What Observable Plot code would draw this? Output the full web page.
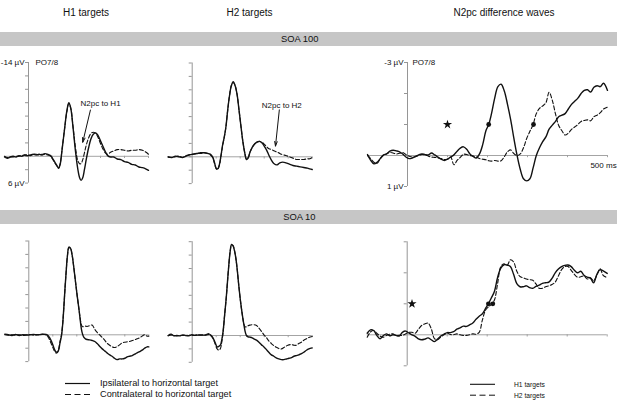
<!DOCTYPE html>
<html>
<head>
<meta charset="utf-8">
<script src="https://cdn.jsdelivr.net/npm/d3@7"></script>
<script src="https://cdn.jsdelivr.net/npm/@observablehq/plot@0.6"></script>
<style>
  body { margin: 0; background: #fff; }
  #fig { position: relative; width: 635px; height: 403px; overflow: hidden;
         font-family: "Liberation Sans", Arial, Helvetica, sans-serif; color: #111; background: #fff; }
  .abs { position: absolute; white-space: nowrap; line-height: 1; }
  .bar { position: absolute; left: 0; width: 617px; height: 14.5px; background: #c6c6c6; }
</style>
</head>
<body>
<div id="fig"></div>
<script>
// ---- Axis definitions -------------------------------------------------
const timeRange = [-100, 500];                       // ms
const msTicks = [100, 200, 300, 400, 500];
const erpRange = [-14, 4];                           // µV, negative up
const erpTicks = [-14, -12, -10, -8, -6, -4, -2, 0, 2, 4];
const erpLabels = ["-14 µV", "6 µV"];
const diffRange = [-3, 1];                           // µV, negative up
const diffTicks = [-3, -2, -1, 0, 1];
const diffLabels = ["-3 µV", "1 µV"];
const siteLabel = "PO7/8";

// ---- SOA 100, H1 targets (ipsilateral / contralateral) ----------------
const soa100H1Time = [-100,-88,-76,-64,-52,-40,-28,-16,-4,8, 20,32,44,56,68,80,92,100,110,120,
  126,132,140,150,160,168,176,185,195,205, 213,219,226,233,241,250,260,270,280,290,
  300,310,320,330,342,355,370,385,400,415, 430,445,460,475,490,500];
const soa100H1Ipsi = [0.1,0.3,0.1,0.0,0.1,-0.1,0.0,-0.2,-0.1,-0.2, -0.3,-0.2,-0.3,-0.2,-0.4,-0.3,-0.1,0.3,0.9,1.5,
  1.8,1.2,-1.0,-4.0,-6.8,-8.0,-7.2,-4.5,-1.0,1.8, 3.2,3.6,3.2,2.0,0.4,-1.2,-2.6,-3.3,-3.5,-3.1,
  -2.3,-1.5,-0.7,-0.1,0.1,0.1,0.4,0.5,0.8,0.9, 1.2,1.3,1.6,1.7,1.9,2.1];
const soa100H1Contra = [0.0,0.2,0.1,0.1,0.0,0.0,-0.1,-0.2,-0.2,-0.1, -0.3,-0.3,-0.2,-0.3,-0.3,-0.2,0.0,0.4,1.0,1.5,
  1.7,1.1,-1.1,-4.0,-6.7,-7.9,-7.2,-4.6,-1.5,0.6, 1.1,1.1,0.5,-0.5,-1.7,-2.7,-3.4,-3.6,-3.4,-2.8,
  -1.9,-1.1,-0.5,-0.3,-0.6,-0.8,-1.0,-1.0,-0.9,-0.8, -0.9,-0.9,-1.0,-0.9,-0.6,-0.3];

// ---- SOA 100, H2 targets ----------------------------------------------
const soa100H2Time = [-100,-85,-70,-55,-40,-25,-10,5,20,35, 50,65,75,85,93,100,106,113,120,127,
  134,141,148,155,163,171,179,187,195,203, 211,219,226,233,241,250,260,270,280,290,
  300,310,320,330,340,354,365,378,390,405, 420,435,450,465,480,490,500];
const soa100H2Ipsi = [0.0,0.1,-0.1,0.0,0.1,-0.1,-0.3,-0.4,-0.5,-0.6, -0.6,-0.5,-0.4,0.0,0.9,1.7,1.8,1.2,-0.2,-1.8,
  -3.0,-4.6,-7.0,-9.0,-10.6,-11.2,-10.6,-9.3,-7.0,-4.6, -2.3,-0.6,0.4,0.2,-0.7,-1.4,-1.9,-2.2,-2.3,-2.1,
  -1.6,-1.0,-0.2,0.5,1.0,1.2,0.9,0.8,0.9,1.1, 1.3,1.4,1.5,1.6,1.7,1.8,1.9];
const soa100H2Contra = [0.05,0.1,0.0,-0.1,0.1,-0.2,-0.3,-0.4,-0.5,-0.5, -0.6,-0.5,-0.3,0.1,1.0,1.8,1.9,1.3,-0.1,-1.7,
  -3.0,-4.6,-7.0,-9.0,-10.6,-11.1,-10.6,-9.3,-7.0,-4.6, -2.3,-0.6,0.3,0.1,-0.7,-1.4,-1.9,-2.2,-2.3,-2.2,
  -1.9,-1.5,-1.2,-1.1,-0.9,-0.7,-0.5,-0.3,-0.2,0.0, 0.2,0.4,0.4,0.4,0.3,0.3,0.1];

// ---- Difference waves (contra minus ipsi) -----------------------------
const diffTime = [-100,-92,-84,-76,-68,-60,-52,-44,-36,-28, -20,-12,-4,4,12,20,28,36,44,52,
  60,68,76,84,92,100,108,116,124,132, 140,148,156,164,172,180,188,196,203,210,
  218,226,234,242,250,258,266,274,282,290, 298,306,314,322,330,338,346,354,362,370,
  378,386,394,402,410,418,426,434,442,450, 458,466,474,482,490,500];
const soa100DiffH1 = [-0.03,0.16,0.27,0.22,0.1,-0.02,-0.05,-0.14,-0.17,-0.15, -0.12,-0.05,0.05,0.1,0.08,0.03,-0.02,-0.05,-0.03,-0.02,
  -0.08,-0.02,0.05,0.12,0.16,0.12,0.05,-0.02,-0.14,-0.24, -0.28,-0.2,-0.05,0.03,0.08,-0.05,-0.35,-0.8,-1.0,-1.35,
  -1.85,-2.22,-2.3,-2.08,-1.65,-1.15,-0.55,0.0,0.45,0.75, 0.82,0.75,0.4,0.0,-0.25,-0.45,-0.6,-0.85,-0.98,-1.1,
  -1.25,-1.3,-1.35,-1.5,-1.65,-1.75,-1.85,-2.0,-2.1,-2.12, -2.05,-2.2,-2.25,-2.22,-2.33,-2.1];
const soa100DiffH2 = [0.0,0.1,0.22,0.25,0.1,0.0,-0.06,-0.1,-0.08,-0.05, -0.07,-0.1,-0.03,0.02,0.05,0.04,0.0,-0.03,-0.02,0.02,
  0.05,0.06,0.08,0.1,0.13,0.12,0.05,0.3,0.16,0.06, -0.04,-0.03,0.0,0.02,0.05,0.1,0.12,0.14,0.17,0.18,
  0.16,0.18,0.17,0.04,-0.12,-0.18,-0.06,0.0,-0.05,-0.25, -0.55,-0.78,-1.0,-1.35,-1.52,-1.6,-1.7,-2.04,-1.78,-1.34,
  -0.97,-0.8,-0.66,-0.72,-0.84,-0.92,-1.0,-1.1,-1.13,-1.15, -1.12,-1.25,-1.3,-1.38,-1.5,-1.56];
const soa10DiffH1 = [-0.05,-0.16,-0.14,0.02,0.13,0.03,-0.03,0.03,0.0,0.02, 0.04,-0.08,-0.12,-0.06,0.0,0.05,0.13,0.16,0.14,0.1,
  0.16,0.22,0.14,0.04,-0.02,-0.07,-0.07,-0.1,-0.18,-0.22, -0.28,-0.27,-0.32,-0.38,-0.5,-0.6,-0.68,-0.85,-1.0,-1.18,
  -1.4,-1.85,-2.15,-2.26,-2.25,-2.2,-1.95,-1.65,-1.55,-1.55, -1.58,-1.52,-1.5,-1.56,-1.6,-1.66,-1.68,-1.7,-1.82,-2.0,
  -2.12,-2.2,-2.24,-2.25,-2.2,-2.08,-2.0,-2.05,-1.92,-1.86, -1.83,-1.68,-1.94,-2.1,-2.06,-1.98];
const soa10DiffH2 = [0.08,-0.09,-0.14,-0.05,0.04,0.08,0.02,-0.02,-0.03,0.02, 0.02,0.02,-0.03,-0.08,-0.08,-0.05,-0.18,-0.3,-0.35,-0.38,
  -0.2,0.12,0.16,0.07,0.0,-0.05,-0.01,0.0,-0.03,0.0, 0.02,0.02,0.0,-0.03,-0.02,-0.08,-0.48,-0.8,-0.9,-0.97,
  -1.12,-1.65,-2.2,-2.29,-2.24,-2.42,-2.35,-2.05,-1.88,-1.84, -1.8,-1.78,-1.76,-1.64,-1.5,-1.5,-1.55,-1.58,-1.62,-1.7,
  -1.9,-2.1,-2.2,-2.2,-2.08,-1.95,-1.86,-1.87,-1.9,-1.8, -1.84,-1.75,-1.92,-2.13,-1.92,-1.84];

// Onset markers (50% peak latency) and significance stars
const soa100Onsets = [{t: 203, v: -1.0}, {t: 315, v: -1.0}];
const soa100Star = [{t: 100, v: -1.0}];
const soa10Onsets = [{t: 203, v: -1.0}, {t: 214, v: -1.0}];
const soa10Star = [{t: 12, v: -1.0}];

// ---- SOA 10, H1 targets -----------------------------------------------
const soa10H1Time = [-100,-85,-70,-55,-40,-25,-10,5,20,35, 50,62,72,80,86,92,98,105,112,118,
  124,130,136,141,146,151,156,161,167,174, 181,187,194,201,208,214,219,224,229,236,
  243,253,264,275,285,295,306,316,326,337, 347,357,368,378,389,400,410,420,431,441,
  451,462,472,483,493,500];
const soa10H1Ipsi = [-0.1,0.0,0.1,-0.05,0.1,0.0,0.05,0.0,-0.05,0.0, -0.05,-0.1,-0.05,0.1,0.4,0.8,1.3,2.0,2.5,2.6,
  2.3,1.2,0.2,-1.5,-4.1,-7.0,-9.6,-11.8,-13.1,-12.9, -11.8,-10.2,-8.1,-6.0,-4.1,-2.3,-0.9,-0.1,0.35,0.6,
  0.7,0.75,0.85,1.0,1.3,1.7,2.1,2.4,2.7,3.0, 3.2,3.5,3.7,3.6,3.6,3.5,3.3,3.2,3.1,2.9,
  2.7,2.5,2.3,2.0,1.8,1.8];
const soa10H1Contra = [0.0,0.05,0.0,0.05,0.0,0.1,0.0,-0.05,0.05,0.0, -0.05,-0.05,0.0,0.3,0.7,1.2,1.7,2.3,2.7,2.7,
  2.2,1.0,0.0,-1.6,-4.1,-7.0,-9.6,-11.8,-13.0,-12.9, -11.8,-10.2,-8.1,-6.0,-4.1,-2.5,-1.5,-1.2,-1.25,-1.3,
  -1.25,-1.35,-1.45,-0.8,-0.35,0.0,0.4,0.8,1.25,1.55, 1.8,1.9,1.75,1.5,1.2,1.1,1.05,1.0,0.85,0.75,
  0.6,0.45,0.2,0.0,0.2,0.2];

// ---- SOA 10, H2 targets -----------------------------------------------
const soa10H2Time = [-100,-88,-76,-64,-52,-40,-28,-16,-4,8, 20,32,44,56,69,78,86,95,104,112,
  118,124,129,135,142,148,153,158,164,170, 176,182,188,194,201,208,215,220,226,233,
  240,250,257,268,278,289,299,309,319,330, 340,350,361,372,382,393,403,414,424,434,
  444,455,465,476,486,500];
const soa10H2Ipsi = [0.0,-0.2,0.05,0.0,0.05,-0.1,0.0,0.05,-0.1,-0.05, -0.05,-0.1,-0.05,-0.1,-0.25,-0.05,0.3,1.0,1.7,1.6,
  1.4,0.5,-0.7,-3.0,-5.7,-8.5,-10.7,-12.5,-13.6,-13.4, -12.7,-11.5,-9.7,-7.5,-5.2,-3.3,-1.7,-0.7,0.0,0.2,
  0.25,0.35,0.5,0.7,1.0,1.4,1.7,2.1,2.5,2.9, 3.1,3.35,3.5,3.6,3.6,3.5,3.4,3.3,3.1,3.0,
  2.9,2.7,2.5,2.2,2.0,1.85];
const soa10H2Contra = [0.05,-0.1,0.0,0.05,0.0,0.0,-0.05,0.0,-0.05,0.0, -0.1,-0.05,-0.1,-0.05,-0.15,0.05,0.4,1.2,2.0,2.2,
  1.9,0.8,-0.6,-3.0,-5.7,-8.5,-10.7,-12.5,-13.5,-13.4, -12.7,-11.5,-9.7,-7.5,-5.2,-3.3,-1.8,-1.3,-1.3,-1.45,
  -1.55,-1.6,-1.6,-1.5,-1.1,-0.6,-0.1,0.3,0.8,1.2, 1.5,1.75,1.95,2.0,1.8,1.55,1.4,1.35,1.45,1.45,
  1.2,1.0,0.7,0.5,0.3,0.15];

// ---- Text -------------------------------------------------------------
const columnTitles = ["H1 targets", "H2 targets", "N2pc difference waves"];
const rowTitles = ["SOA 100", "SOA 10"];
const erpLegend = ["Ipsilateral to horizontal target", "Contralateral to horizontal target"];
const diffLegend = ["H1 targets", "H2 targets"];

// ---- Drawing ----------------------------------------------------------
const fig = document.getElementById("fig");
const FONT = '"Liberation Sans", Arial, Helvetica, sans-serif';
const INK = "#111";
const AXIS = "#8a8a8a";

function addText(str, x, y, size, anchor = "start") {
  const d = document.createElement("div");
  d.className = "abs";
  d.textContent = str;
  d.style.left = x + "px";
  d.style.top = y + "px";
  d.style.fontSize = size + "px";
  const tx = anchor === "middle" ? "-50%" : anchor === "end" ? "-100%" : "0";
  d.style.transform = `translate(${tx}, -50%)`;
  fig.appendChild(d);
}

function addBar(top) {
  const b = document.createElement("div");
  b.className = "bar";
  b.style.top = top + "px";
  fig.appendChild(b);
}

const rows = (time, values) => time.map((t, i) => ({t, v: values[i]}));

function panel(cfg) {
  const {left, top, width, height, x0, x1, yTop, yBottom, domain, ticks,
         time, solid, dashed, extras = []} = cfg;
  const pxPerMs = (x1 - x0) / (timeRange[1] - timeRange[0]);
  const pxPerUv = (yBottom - yTop) / (domain[1] - domain[0]);
  const yTickLen = 3 / pxPerMs;      // ms
  const xTickLen = 2.2 / pxPerUv;    // µV
  const svg = Plot.plot({
    width, height,
    marginLeft: x0 - left, marginRight: left + width - x1,
    marginTop: yTop - top, marginBottom: top + height - yBottom,
    x: {domain: timeRange, axis: null},
    y: {domain, reverse: true, axis: null},
    style: {background: "none", overflow: "visible", fontFamily: FONT, color: INK},
    marks: [
      Plot.ruleY([0], {x1: timeRange[0], x2: timeRange[1], stroke: "#9a9a9a", strokeWidth: 0.9}),
      Plot.ruleX(msTicks, {y1: 0, y2: xTickLen, stroke: "#9a9a9a", strokeWidth: 0.9}),
      Plot.ruleX([0], {y1: domain[0], y2: domain[1], stroke: AXIS, strokeWidth: 0.9}),
      Plot.ruleY(ticks, {x1: -yTickLen, x2: 0, stroke: AXIS, strokeWidth: 0.9}),
      Plot.line(rows(time, dashed), {x: "t", y: "v", curve: "catmull-rom", stroke: INK,
        strokeWidth: 1.1, strokeDasharray: "4,2.2"}),
      Plot.line(rows(time, solid), {x: "t", y: "v", curve: "catmull-rom", stroke: INK,
        strokeWidth: 1.4}),
      ...extras
    ]
  });
  svg.style.position = "absolute";
  svg.style.left = left + "px";
  svg.style.top = top + "px";
  fig.appendChild(svg);
}

const axisLabelMarks = (labels, range, dxSite) => [
  Plot.text(range, {
    x: 0, y: d => d, text: (d, i) => labels[i], textAnchor: "end", dx: -4,
    fontSize: 8, fill: INK}),
  Plot.text([siteLabel], {x: 0, y: range[0],
    text: d => d, textAnchor: "start", dx: dxSite, fontSize: 8, fill: INK})
];

const arrowNote = (label, textAt, from, to) => [
  Plot.text([label], {x: textAt[0], y: textAt[1], text: d => d, textAnchor: "start",
    fontSize: 8, fill: INK}),
  Plot.arrow([{from, to}], {x1: d => d.from[0], y1: d => d.from[1], x2: d => d.to[0], y2: d => d.to[1],
    stroke: INK, strokeWidth: 1, headLength: 7, headAngle: 32})
];

const markerMarks = (onsets, star) => [
  Plot.dot(star, {x: "t", y: "v", symbol: "star", r: 2.9, fill: INK, stroke: "none"}),
  Plot.dot(onsets, {x: "t", y: "v", r: 2.4, fill: INK, stroke: "none"})
];

// column titles and row bands
addText(columnTitles[0], 86, 12.5, 10, "middle");
addText(columnTitles[1], 249.5, 12.5, 10, "middle");
addText(columnTitles[2], 504, 12.5, 10, "middle");
addBar(31.8);
addText(rowTitles[0], 318.5, 39.3, 9.4, "end");
addBar(209.5);
addText(rowTitles[1], 315.5, 217, 9.4, "end");

// SOA 100 row
panel({left: 0, top: 50, width: 160, height: 145, x0: 4, x1: 148, yTop: 62, yBottom: 182.6,
  domain: erpRange, ticks: erpTicks, time: soa100H1Time, solid: soa100H1Ipsi, dashed: soa100H1Contra,
  extras: [...axisLabelMarks(erpLabels, erpRange, 7), ...arrowNote("N2pc to H1", [217, -7.9], [258, -6.9], [226, -2.1])]});
panel({left: 160, top: 50, width: 160, height: 145, x0: 167.7, x1: 311.7, yTop: 62.5, yBottom: 183.1,
  domain: erpRange, ticks: erpTicks, time: soa100H2Time, solid: soa100H2Ipsi, dashed: soa100H2Contra,
  extras: arrowNote("N2pc to H2", [290, -7.7], [363, -7.0], [347, -1.6])});
panel({left: 330, top: 50, width: 300, height: 145, x0: 367, x1: 607, yTop: 62, yBottom: 186,
  domain: diffRange, ticks: diffTicks, time: diffTime, solid: soa100DiffH1, dashed: soa100DiffH2,
  extras: [...axisLabelMarks(diffLabels, diffRange, 5), ...markerMarks(soa100Onsets, soa100Star),
    Plot.text(["500 ms"], {x: timeRange[1], y: 0, text: d => d, textAnchor: "middle",
      dx: -4, dy: 9.5, fontSize: 8, fill: INK})]});

// SOA 10 row
panel({left: 0, top: 228, width: 160, height: 145, x0: 4.3, x1: 148.3, yTop: 240.5, yBottom: 361.1,
  domain: erpRange, ticks: erpTicks, time: soa10H1Time, solid: soa10H1Ipsi, dashed: soa10H1Contra});
panel({left: 160, top: 228, width: 160, height: 145, x0: 167.7, x1: 311.7, yTop: 241.2, yBottom: 361.8,
  domain: erpRange, ticks: erpTicks, time: soa10H2Time, solid: soa10H2Ipsi, dashed: soa10H2Contra});
panel({left: 330, top: 228, width: 300, height: 145, x0: 366.7, x1: 606.7, yTop: 241.3, yBottom: 365.3,
  domain: diffRange, ticks: diffTicks, time: diffTime, solid: soa10DiffH1, dashed: soa10DiffH2,
  extras: markerMarks(soa10Onsets, soa10Star)});

// legends
const key = d3.select(fig).append("svg")
  .attr("width", 635).attr("height", 403)
  .style("position", "absolute").style("left", 0).style("top", 0).style("pointer-events", "none");
const keyLine = (xa, xb, y, dash, w) => key.append("line")
  .attr("x1", xa).attr("x2", xb).attr("y1", y).attr("y2", y)
  .attr("stroke", INK).attr("stroke-width", w).attr("stroke-dasharray", dash);
keyLine(65, 90, 383.5, null, 1.2);
keyLine(65, 90, 394.5, "6,3.5", 1.1);
addText(erpLegend[0], 100, 384, 9.2);
addText(erpLegend[1], 100, 395, 9.2);
keyLine(470, 495, 384.3, null, 1.1);
keyLine(470, 495, 395.2, "6,3.5", 1);
addText(diffLegend[0], 514, 384.6, 6.7);
addText(diffLegend[1], 514, 395.6, 6.7);
</script>
</body>
</html>
